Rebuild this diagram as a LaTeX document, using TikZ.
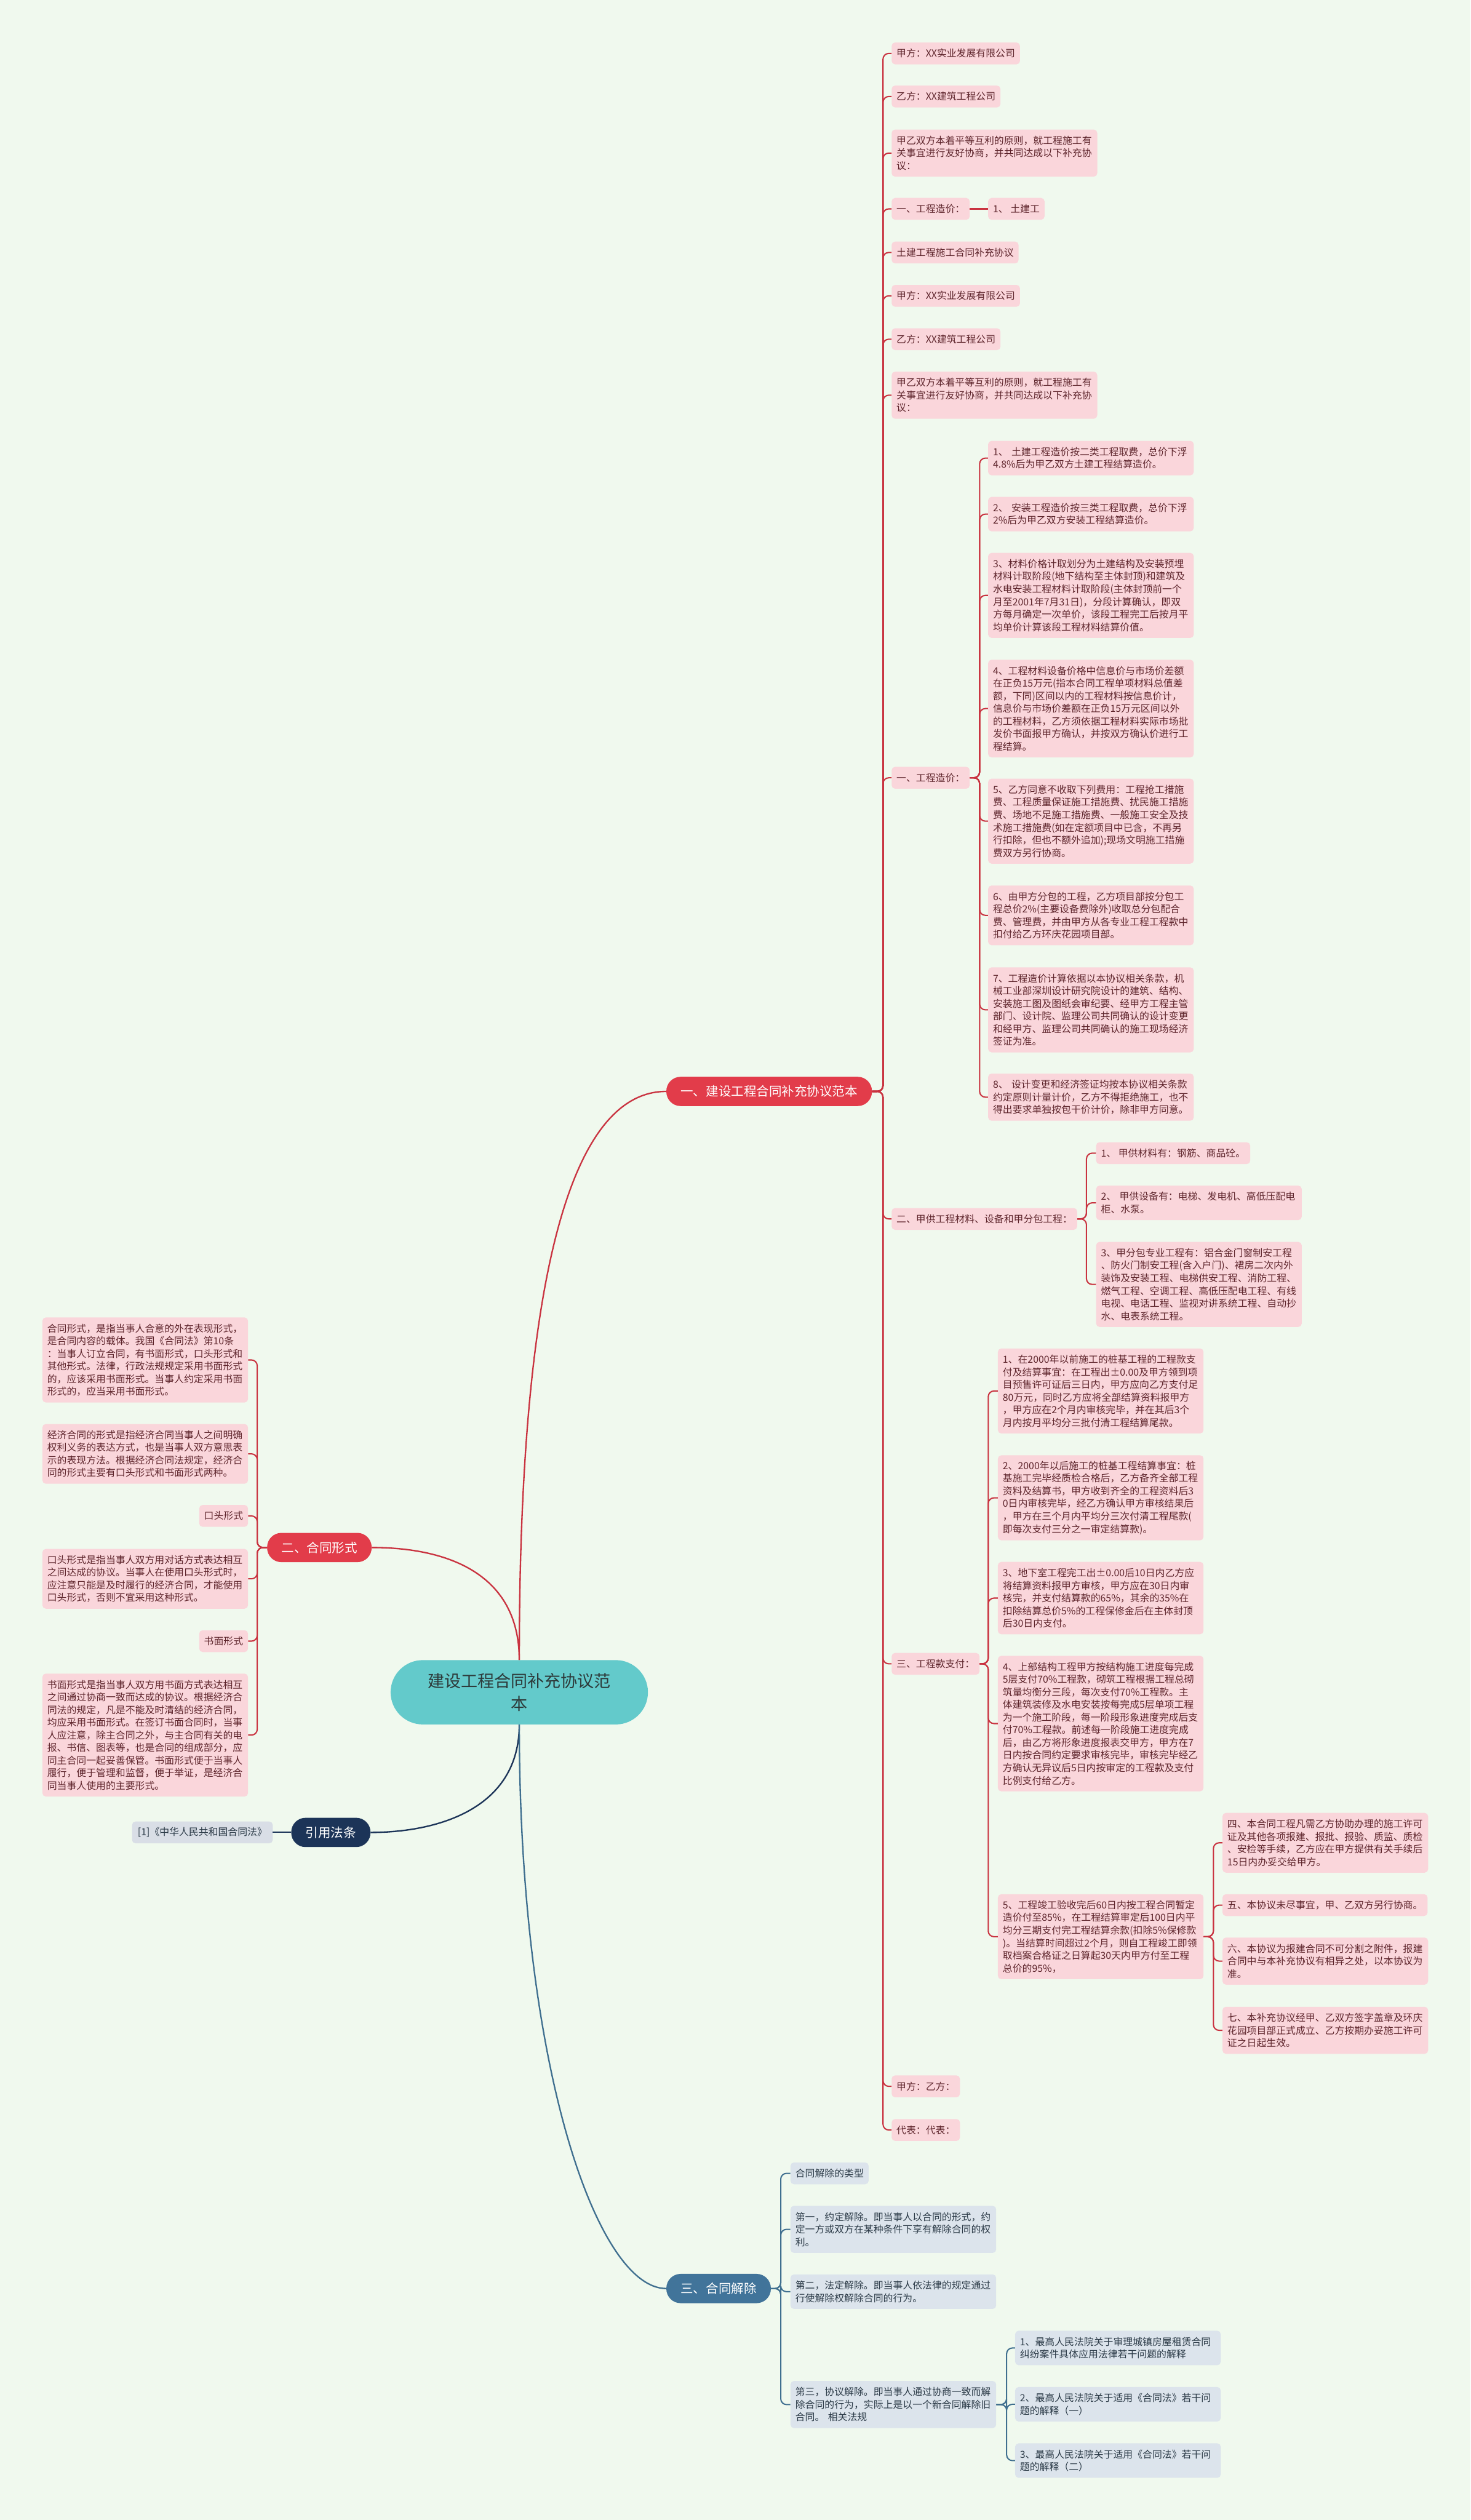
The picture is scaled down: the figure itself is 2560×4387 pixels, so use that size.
\documentclass[tikz,border=0pt]{standalone}
\usepackage{fontspec}
\setmainfont{Noto Sans CJK SC}
\definecolor{bgc}{HTML}{F0F9EE}
\definecolor{pinkc}{HTML}{FAD6DB}
\definecolor{ptext}{HTML}{5E252C}
\definecolor{redp}{HTML}{E23C4A}
\definecolor{redl}{HTML}{C93340}
\definecolor{centc}{HTML}{63CACB}
\definecolor{ctext}{HTML}{2D3A3A}
\definecolor{navyc}{HTML}{1C3458}
\definecolor{bluep}{HTML}{41749A}
\definecolor{bluel}{HTML}{3F6F8F}
\definecolor{bboxc}{HTML}{DCE4EC}
\definecolor{btext}{HTML}{2B3A47}
\definecolor{gboxc}{HTML}{D9DEE6}
\newcommand\fs{\fontsize{17pt}{22pt}\selectfont}
\begin{document}
\begin{tikzpicture}[x=1pt,y=-1pt,
  pill/.style={rounded corners=25pt, minimum height=51pt, text=white,
    font=\fontsize{22pt}{26pt}\selectfont, inner xsep=25pt, inner ysep=2pt},
  pbox/.style={fill=pinkc, text=ptext, rounded corners=6pt, inner xsep=8.5pt,
    inner ysep=2pt, minimum height=38pt, align=left, font=\fs},
  bluebox/.style={pbox, fill=bboxc, text=btext},
  wbox/.style={text width=341pt},
  mh/.style={minimum height=#1pt},
  rl/.style={draw=redl, line width=2.2pt, rounded corners=10pt},
  bl/.style={draw=bluel, line width=2.2pt, rounded corners=10pt},
  nl/.style={draw=navyc, line width=2.2pt},
  maincurve/.style={line width=2.5pt}
]
\useasboundingbox (0,0) rectangle (2560,4387);
\fill[bgc] (0,0) rectangle (2560,4387);

% ---------- main nodes
\node[pill, fill=centc, text=ctext, minimum width=448pt, minimum height=112pt,
  rounded corners=56pt, font=\fontsize{29pt}{40pt}\selectfont, align=center]
  (c) at (904,2946) {建设工程合同补充协议范\\本};
\node[pill, fill=redp] (b1) at (1339,1900) {一、建设工程合同补充协议范本};
\node[pill, fill=redp] (b2) at (556,2694) {二、合同形式};
\node[pill, fill=navyc] (b3) at (576,3190) {引用法条};
\node[pill, fill=bluep] (b4) at (1251,3984) {三、合同解除};

\draw[redl, maincurve] (c.north) .. controls (904,2200) and (1000,1900) .. (b1.west);
\draw[redl, maincurve] (c.north) .. controls (904,2740) and (780,2694) .. (b2.east);
\draw[navyc, maincurve] (c.south) .. controls (904,3150) and (760,3190) .. (b3.east);
\draw[bluel, maincurve] (c.south) .. controls (904,3600) and (1040,3984) .. (b4.west);

% ---------- branch 1
\begin{scope}[every node/.append style={anchor=west}]
\node[pbox] (t1) at (1552,93) {甲方：XX实业发展有限公司};
\node[pbox] (t2) at (1552,168) {乙方：XX建筑工程公司};
\node[pbox, wbox, mh=82] (t3) at (1552,266.5) {甲乙双方本着平等互利的原则，就工程施工有\\关事宜进行友好协商，并共同达成以下补充协\\议：};
\node[pbox] (t4) at (1552,363.6) {一、工程造价：};
\node[pbox] (t4a) at (1720,363.6) {1、~土建工};
\node[pbox] (t5) at (1552,439.5) {土建工程施工合同补充协议};
\node[pbox] (t6) at (1552,515) {甲方：XX实业发展有限公司};
\node[pbox] (t7) at (1552,590.5) {乙方：XX建筑工程公司};
\node[pbox, wbox, mh=82] (t8) at (1552,688) {甲乙双方本着平等互利的原则，就工程施工有\\关事宜进行友好协商，并共同达成以下补充协\\议：};
\node[pbox] (t9) at (1552,1354) {一、工程造价：};

\node[pbox, wbox, mh=60] (p1) at (1720,797.5) {1、~土建工程造价按二类工程取费，总价下浮\\4.8\%后为甲乙双方土建工程结算造价。};
\node[pbox, wbox, mh=60] (p2) at (1720,895) {2、~安装工程造价按三类工程取费，总价下浮\\2\%后为甲乙双方安装工程结算造价。};
\node[pbox, wbox, mh=148] (p3) at (1720,1036.5) {3、材料价格计取划分为土建结构及安装预埋\\材料计取阶段(地下结构至主体封顶)和建筑及\\水电安装工程材料计取阶段(主体封顶前一个\\月至2001年7月31日)，分段计算确认，即双\\方每月确定一次单价，该段工程完工后按月平\\均单价计算该段工程材料结算价值。};
\node[pbox, wbox, mh=170] (p4) at (1720,1233.5) {4、工程材料设备价格中信息价与市场价差额\\在正负15万元(指本合同工程单项材料总值差\\额，下同)区间以内的工程材料按信息价计，\\信息价与市场价差额在正负15万元区间以外\\的工程材料，乙方须依据工程材料实际市场批\\发价书面报甲方确认，并按双方确认价进行工\\程结算。};
\node[pbox, wbox, mh=148] (p5) at (1720,1429.5) {5、乙方同意不收取下列费用：工程抢工措施\\费、工程质量保证施工措施费、扰民施工措施\\费、场地不足施工措施费、一般施工安全及技\\术施工措施费(如在定额项目中已含，不再另\\行扣除，但也不额外追加);现场文明施工措施\\费双方另行协商。};
\node[pbox, wbox, mh=104] (p6) at (1720,1593.5) {6、由甲方分包的工程，乙方项目部按分包工\\程总价2\%(主要设备费除外)收取总分包配合\\费、管理费，并由甲方从各专业工程工程款中\\扣付给乙方环庆花园项目部。};
\node[pbox, wbox, mh=148] (p7) at (1720,1758) {7、工程造价计算依据以本协议相关条款，机\\械工业部深圳设计研究院设计的建筑、结构、\\安装施工图及图纸会审纪要、经甲方工程主管\\部门、设计院、监理公司共同确认的设计变更\\和经甲方、监理公司共同确认的施工现场经济\\签证为准。};
\node[pbox, wbox, mh=82] (p8) at (1720,1910) {8、~设计变更和经济签证均按本协议相关条款\\约定原则计量计价，乙方不得拒绝施工，也不\\得出要求单独按包干价计价，除非甲方同意。};

\node[pbox] (t10) at (1552,2122) {二、甲供工程材料、设备和甲分包工程：};
\node[pbox] (q1) at (1908,2007.5) {1、~甲供材料有：钢筋、商品砼。};
\node[pbox, wbox, mh=60] (q2) at (1908,2094) {2、~甲供设备有：电梯、发电机、高低压配电\\柜、水泵。};
\node[pbox, wbox, mh=148] (q3) at (1908,2236) {3、甲分包专业工程有：铝合金门窗制安工程\\、防火门制安工程(含入户门)、裙房二次内外\\装饰及安装工程、电梯供安工程、消防工程、\\燃气工程、空调工程、高低压配电工程、有线\\电视、电话工程、监视对讲系统工程、自动抄\\水、电表系统工程。};

\node[pbox] (t11) at (1552,2896.5) {三、工程款支付：};
\node[pbox, wbox, mh=148] (r1) at (1737,2421.5) {1、在2000年以前施工的桩基工程的工程款支\\付及结算事宜：在工程出±0.00及甲方领到项\\目预售许可证后三日内，甲方应向乙方支付足\\80万元，同时乙方应将全部结算资料报甲方\\，甲方应在2个月内审核完毕，并在其后3个\\月内按月平均分三批付清工程结算尾款。};
\node[pbox, wbox, mh=148] (r2) at (1737,2607.5) {2、2000年以后施工的桩基工程结算事宜：桩\\基施工完毕经质检合格后，乙方备齐全部工程\\资料及结算书，甲方收到齐全的工程资料后3\\0日内审核完毕，经乙方确认甲方审核结果后\\，甲方在三个月内平均分三次付清工程尾款(\\即每次支付三分之一审定结算款)。};
\node[pbox, wbox, mh=126] (r3) at (1737,2782) {3、地下室工程完工出±0.00后10日内乙方应\\将结算资料报甲方审核，甲方应在30日内审\\核完，并支付结算款的65\%，其余的35\%在\\扣除结算总价5\%的工程保修金后在主体封顶\\后30日内支付。};
\node[pbox, wbox, mh=236] (r4) at (1737,3000.5) {4、上部结构工程甲方按结构施工进度每完成\\5层支付70\%工程款，砌筑工程根据工程总砌\\筑量均衡分三段，每次支付70\%工程款。主\\体建筑装修及水电安装按每完成5层单项工程\\为一个施工阶段，每一阶段形象进度完成后支\\付70\%工程款。前述每一阶段施工进度完成\\后，由乙方将形象进度报表交甲方，甲方在7\\日内按合同约定要求审核完毕，审核完毕经乙\\方确认无异议后5日内按审定的工程款及支付\\比例支付给乙方。};
\node[pbox, wbox, mh=148] (r5) at (1737,3371.5) {5、工程竣工验收完后60日内按工程合同暂定\\造价付至85\%，在工程结算审定后100日内平\\均分三期支付完工程结算余款(扣除5\%保修款\\)。当结算时间超过2个月，则自工程竣工即领\\取档案合格证之日算起30天内甲方付至工程\\总价的95\%，};
\node[pbox, wbox, mh=104] (s4) at (2128,3208) {四、本合同工程凡需乙方协助办理的施工许可\\证及其他各项报建、报批、报验、质监、质检\\、安检等手续，乙方应在甲方提供有关手续后\\15日内办妥交给甲方。};
\node[pbox] (s5) at (2128,3316.5) {五、本协议未尽事宜，甲、乙双方另行协商。};
\node[pbox, wbox, mh=82] (s6) at (2128,3414) {六、本协议为报建合同不可分割之附件，报建\\合同中与本补充协议有相异之处，以本协议为\\准。};
\node[pbox, wbox, mh=82] (s7) at (2128,3534.5) {七、本补充协议经甲、乙双方签字盖章及环庆\\花园项目部正式成立、乙方按期办妥施工许可\\证之日起生效。};
\node[pbox] (t12) at (1552,3632) {甲方：乙方：};
\node[pbox] (t13) at (1552,3708) {代表：代表：};

% ---------- branch 4
\node[bluebox] (u1) at (1376,3783.5) {合同解除的类型};
\node[bluebox, wbox, mh=82] (u2) at (1376,3881) {第一，约定解除。即当事人以合同的形式，约\\定一方或双方在某种条件下享有解除合同的权\\利。};
\node[bluebox, wbox, mh=60] (u3) at (1376,3989.5) {第二，法定解除。即当事人依法律的规定通过\\行使解除权解除合同的行为。};
\node[bluebox, wbox, mh=82] (u4) at (1376,4186) {第三，协议解除。即当事人通过协商一致而解\\除合同的行为，实际上是以一个新合同解除旧\\合同。~相关法规};
\node[bluebox, wbox, mh=60] (v1) at (1767,4087.5) {1、最高人民法院关于审理城镇房屋租赁合同\\纠纷案件具体应用法律若干问题的解释};
\node[bluebox, wbox, mh=60] (v2) at (1767,4185.5) {2、最高人民法院关于适用《合同法》若干问\\题的解释（一）};
\node[bluebox, wbox, mh=60] (v3) at (1767,4283.5) {3、最高人民法院关于适用《合同法》若干问\\题的解释（二）};
\end{scope}

% ---------- branch 2 (left)
\begin{scope}[every node/.append style={anchor=east}]
\node[pbox, wbox, mh=148] (lA) at (432,2367.5) {合同形式，是指当事人合意的外在表现形式，\\是合同内容的载体。我国《合同法》第10条\\：当事人订立合同，有书面形式，口头形式和\\其他形式。法律，行政法规规定采用书面形式\\的，应该采用书面形式。当事人约定采用书面\\形式的，应当采用书面形式。};
\node[pbox, wbox, mh=104] (lB) at (432,2531) {经济合同的形式是指经济合同当事人之间明确\\权利义务的表达方式，也是当事人双方意思表\\示的表现方法。根据经济合同法规定，经济合\\同的形式主要有口头形式和书面形式两种。};
\node[pbox] (lK) at (432,2639) {口头形式};
\node[pbox, wbox, mh=104] (lC) at (432,2748.5) {口头形式是指当事人双方用对话方式表达相互\\之间达成的协议。当事人在使用口头形式时，\\应注意只能是及时履行的经济合同，才能使用\\口头形式，否则不宜采用这种形式。};
\node[pbox] (lS) at (432,2857) {书面形式};
\node[pbox, wbox, mh=214] (lD) at (432,3020.5) {书面形式是指当事人双方用书面方式表达相互\\之间通过协商一致而达成的协议。根据经济合\\同法的规定，凡是不能及时清结的经济合同，\\均应采用书面形式。在签订书面合同时，当事\\人应注意，除主合同之外，与主合同有关的电\\报、书信、图表等，也是合同的组成部分，应\\同主合同一起妥善保管。书面形式便于当事人\\履行，便于管理和监督，便于举证，是经济合\\同当事人使用的主要形式。};
\node[pbox, fill=gboxc, text=btext, inner xsep=10pt] (ref1) at (475,3190) {[1]《中华人民共和国合同法》};
\end{scope}

% ---------- connectors
\foreach \n in {t1,t2,t3,t4,t5,t6,t7,t8,t9,t10,t11,t12,t13}
  \draw[rl] (b1.east) -- ++(19,0) |- (\n.west);
\draw[rl] (t4.east) -- (t4a.west);
\foreach \n in {p1,p2,p3,p4,p5,p6,p7,p8}
  \draw[rl] (t9.east) -- ++(17,0) |- (\n.west);
\foreach \n in {q1,q2,q3}
  \draw[rl] (t10.east) -- ++(16,0) |- (\n.west);
\foreach \n in {r1,r2,r3,r4,r5}
  \draw[rl] (t11.east) -- ++(15,0) |- (\n.west);
\foreach \n in {s4,s5,s6,s7}
  \draw[rl] (r5.east) -- ++(17,0) |- (\n.west);
\foreach \n in {lA,lB,lK,lC,lS,lD}
  \draw[rl] (b2.west) -- ++(-17,0) |- (\n.east);
\draw[nl] (b3.west) -- (ref1.east);
\foreach \n in {u1,u2,u3,u4}
  \draw[bl] (b4.east) -- ++(17,0) |- (\n.west);
\foreach \n in {v1,v2,v3}
  \draw[bl] (u4.east) -- ++(18,0) |- (\n.west);
\end{tikzpicture}
\end{document}
